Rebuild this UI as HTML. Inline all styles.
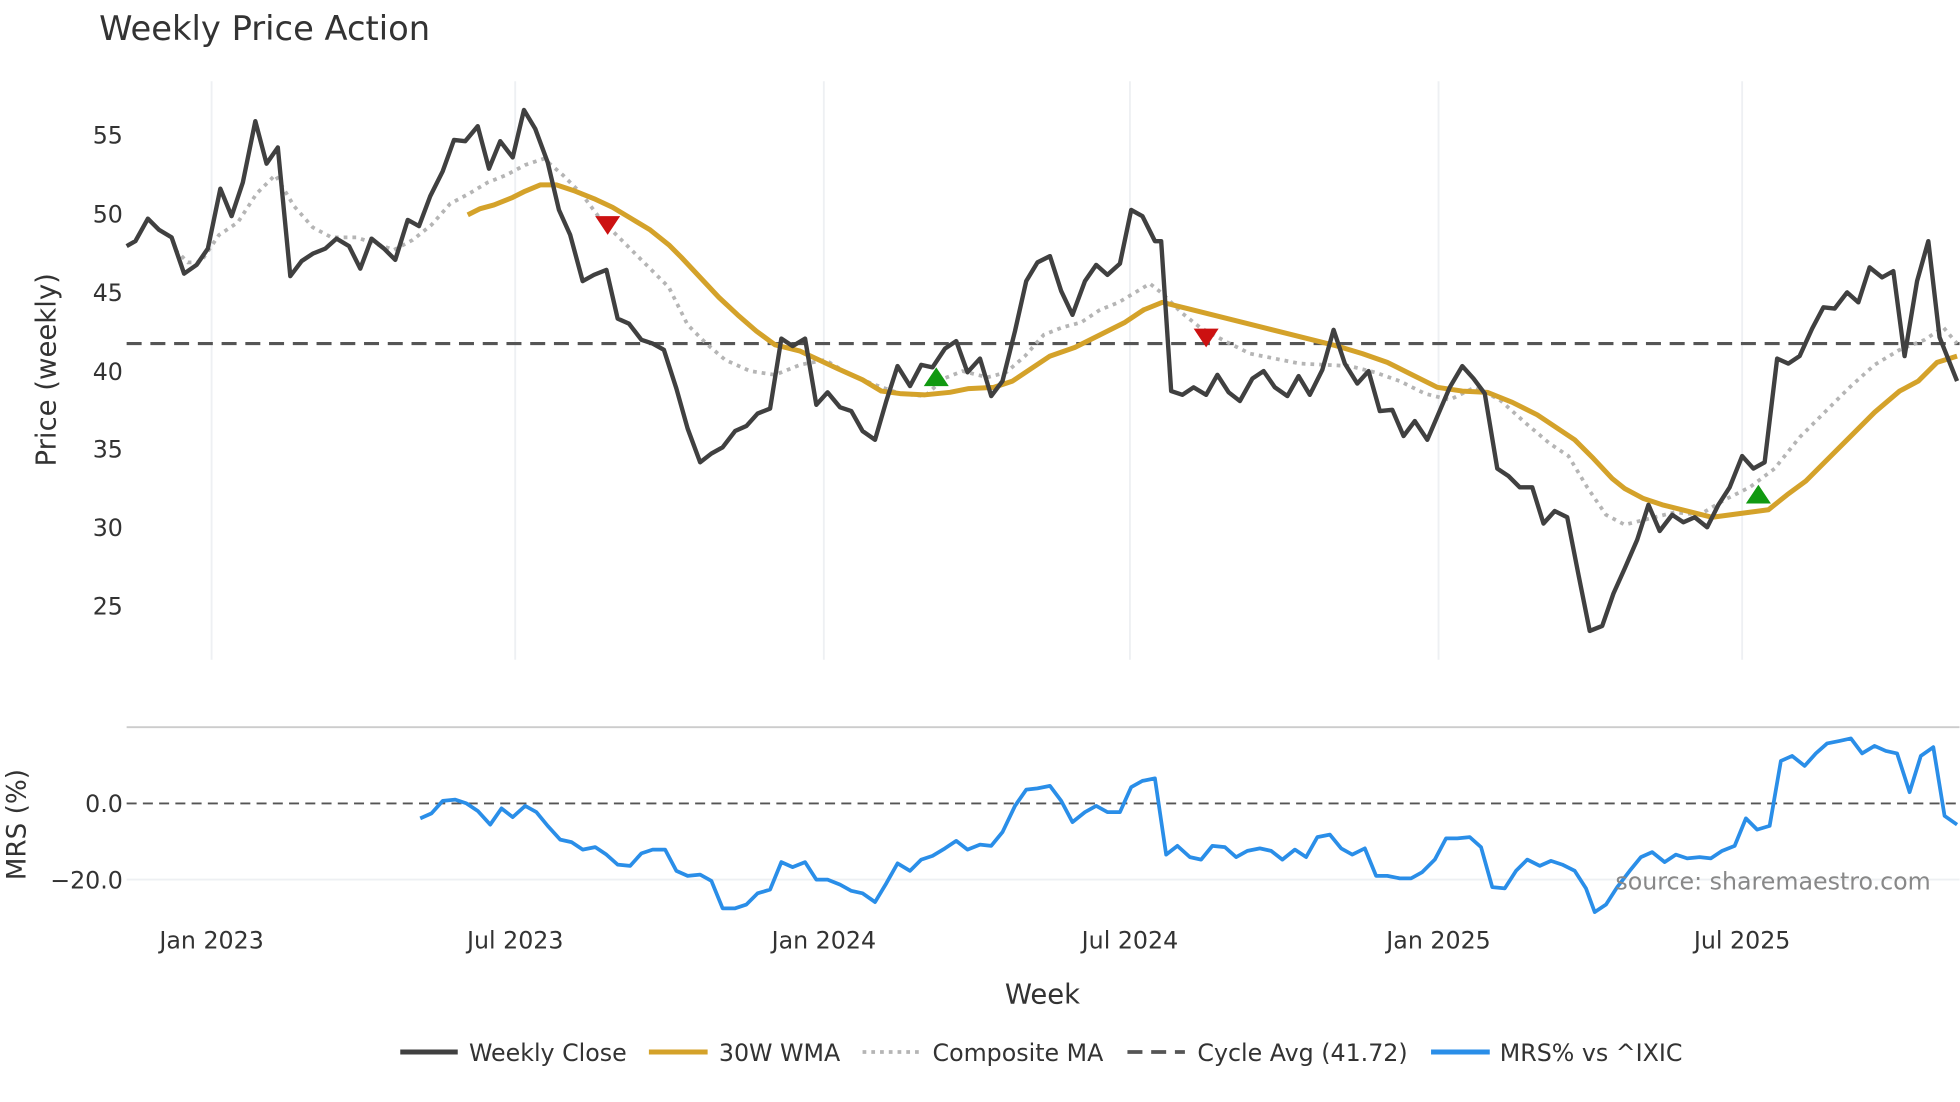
<!DOCTYPE html>
<html><head><meta charset="utf-8"><style>
html,body{margin:0;padding:0;background:#fff}
svg{display:block}
text{font-family:"DejaVu Sans","Liberation Sans",sans-serif;fill:#333}
</style></head><body>
<svg width="1960" height="1102" viewBox="0 0 1568 882" xmlns="http://www.w3.org/2000/svg">
<rect width="1568" height="882" fill="#fff"/>
<text x="79" y="32" font-size="27">Weekly Price Action</text>
<g stroke="#eef0f3" stroke-width="1.5">
<line x1="169" y1="65" x2="169" y2="528"/><line x1="412" y1="65" x2="412" y2="528"/>
<line x1="659" y1="65" x2="659" y2="528"/><line x1="904" y1="65" x2="904" y2="528"/>
<line x1="1151" y1="65" x2="1151" y2="528"/><line x1="1394" y1="65" x2="1394" y2="528"/>
<line x1="101" y1="704" x2="1568" y2="704"/>
</g>
<line x1="101" y1="582" x2="1568" y2="582" stroke="#ccc" stroke-width="1.5"/>
<g font-size="19" text-anchor="end">
<text x="98" y="115">55</text><text x="98" y="178">50</text><text x="98" y="241">45</text>
<text x="98" y="304">40</text><text x="98" y="366">35</text><text x="98" y="429">30</text><text x="98" y="492">25</text>
<text x="98" y="650">0.0</text><text x="98" y="711">−20.0</text>
</g>
<g font-size="19" text-anchor="middle">
<text x="169" y="759">Jan 2023</text><text x="412" y="759">Jul 2023</text><text x="659" y="759">Jan 2024</text>
<text x="904" y="759">Jul 2024</text><text x="1151" y="759">Jan 2025</text><text x="1394" y="759">Jul 2025</text>
<text x="834" y="803" font-size="22">Week</text>
</g>
<text transform="translate(44,296) rotate(-90)" font-size="22" text-anchor="middle">Price (weekly)</text>
<text transform="translate(20,660) rotate(-90)" font-size="21" text-anchor="middle">MRS (%)</text>
<line x1="101" y1="275" x2="1568" y2="275" stroke="#555" stroke-width="2.5" stroke-dasharray="12,7"/>
<line x1="101" y1="643" x2="1568" y2="643" stroke="#555" stroke-width="1.5" stroke-dasharray="8,5"/>
<polyline fill="none" stroke="#b5b5b5" stroke-width="3" stroke-dasharray="3,4" points="140,200 150,210 160,210 175,188 190,178 205,155 220,140 235,165 250,182 265,190 285,190 300,195 315,200 330,192 345,180 360,163 375,155 390,146 405,140 420,132 435,127 450,140 465,155 480,175 495,190 510,205 525,220 535,230 550,260 565,275 580,288 600,297 620,300 640,292 660,288 680,300 700,308 720,315 740,317 755,303 770,297 790,302 805,298 820,285 835,268 850,262 865,258 880,248 895,242 905,236 920,227 930,235 945,250 960,262 980,273 1000,283 1020,287 1040,291 1060,292 1080,293 1100,298 1120,305 1140,315 1160,320 1180,310 1200,320 1220,338 1240,355 1255,365 1270,390 1285,412 1300,420 1320,415 1340,410 1360,412 1380,400 1400,390 1420,375 1440,350 1460,330 1480,310 1500,292 1520,280 1540,272 1555,262 1566,275"/>
<polyline fill="none" stroke="#d4a22a" stroke-width="4" stroke-linejoin="round" points="374,172 384,167 395,164 410,158 420,153 432,148 445,148 460,153 475,159 490,166 505,175 520,184 535,196 545,206 560,222 575,238 590,252 605,265 620,276 640,281 655,288 670,295 690,304 705,313 720,315 740,316 760,314 775,311 795,310 810,305 825,295 840,285 860,278 880,268 900,258 915,248 930,242 950,247 970,252 990,257 1010,262 1030,267 1050,272 1070,277 1090,283 1110,290 1130,300 1150,310 1170,313 1190,314 1210,322 1230,332 1245,342 1260,352 1275,367 1290,383 1300,391 1315,399 1330,404 1350,409 1370,414 1385,412 1400,410 1415,408 1430,396 1445,385 1460,370 1480,350 1500,330 1520,313 1535,305 1550,290 1566,285"/>
<polyline fill="none" stroke="#404040" stroke-width="3.5" stroke-linejoin="round" points="101,197 108,193 118,175 127,184 137,190 147,219 157,212 166,199 176,151 185,173 194,146 204,97 213,131 222,118 232,221 241,209 250,203 260,199 269,191 279,197 288,215 297,191 307,199 316,208 326,176 335,181 344,157 354,137 363,112 372,113 382,101 391,135 400,113 410,126 419,88 428,103 438,130 447,168 456,188 466,225 475,220 485,216 494,255 503,259 513,272 522,275 531,280 541,311 550,343 560,370 569,363 578,358 588,345 597,341 606,331 616,327 625,271 634,277 644,271 653,324 662,314 672,326 681,329 690,345 700,352 709,321 718,293 728,309 737,292 746,294 756,279 765,273 774,298 784,287 793,317 802,305 812,265 821,225 830,210 840,205 849,233 858,252 868,225 877,212 886,220 896,211 905,168 914,173 924,193 929,193 937,313 946,316 955,310 965,316 974,300 983,314 992,321 1002,303 1011,297 1020,310 1030,317 1039,301 1048,316 1058,296 1067,264 1076,291 1086,307 1095,297 1104,329 1114,328 1123,349 1132,337 1142,352 1151,331 1160,310 1170,293 1179,303 1188,315 1198,375 1207,381 1216,390 1226,390 1235,419 1244,409 1254,414 1263,460 1272,505 1282,501 1291,475 1300,455 1310,432 1319,404 1328,425 1338,412 1347,418 1356,414 1366,422 1375,404 1384,390 1394,365 1403,375 1412,370 1422,287 1431,291 1440,285 1450,263 1459,246 1468,247 1478,234 1487,242 1496,214 1506,222 1515,217 1524,285 1534,225 1543,193 1552,270 1566,305"/>
<g fill="#cc1111"><polygon points="476,173 496,173 486,188"/><polygon points="955,263 975,263 965,278"/></g>
<g fill="#119911"><polygon points="739,309 759,309 749,294"/><polygon points="1397,403 1417,403 1407,388"/></g>
<polyline fill="none" stroke="#2a8ee8" stroke-width="3" stroke-linejoin="round" points="336,655 345,651 354,641 364,640 373,643 382,649 392,660 401,647 410,654 420,645 429,650 438,661 448,672 457,674 466,680 476,678 485,684 494,692 504,693 513,683 522,680 532,680 541,697 550,701 560,700 569,705 578,727 588,727 597,724 606,715 616,712 625,690 634,694 644,690 653,704 662,704 672,708 681,713 690,715 700,722 709,707 718,691 728,697 737,688 746,685 756,679 765,673 774,680 784,676 793,677 802,666 812,645 821,632 830,631 840,629 849,641 858,658 868,650 877,645 886,650 896,650 905,630 914,625 924,623 933,684 942,677 952,686 961,688 970,677 980,678 989,686 998,681 1008,679 1017,681 1026,688 1036,680 1045,686 1054,670 1064,668 1073,679 1082,684 1092,679 1101,701 1110,701 1120,703 1129,703 1138,698 1148,688 1157,671 1166,671 1176,670 1185,678 1194,710 1204,711 1213,697 1222,688 1232,693 1241,689 1250,692 1260,697 1269,711 1276,730 1285,724 1294,710 1304,697 1313,686 1322,682 1332,690 1341,684 1350,687 1360,686 1369,687 1378,681 1388,677 1397,655 1406,664 1416,661 1425,609 1434,605 1444,613 1453,603 1462,595 1472,593 1481,591 1490,603 1500,597 1509,601 1518,603 1528,634 1537,605 1547,598 1556,653 1566,660"/>
<text x="1545" y="712" font-size="19" text-anchor="end" style="fill:#888">source: sharemaestro.com</text>
<g stroke-width="4">
<line x1="320" y1="842" x2="366" y2="842" stroke="#404040"/>
<line x1="519" y1="842" x2="566" y2="842" stroke="#d4a22a"/>
<line x1="690" y1="842" x2="736" y2="842" stroke="#b5b5b5" stroke-width="3" stroke-dasharray="3,4"/>
<line x1="902" y1="842" x2="948" y2="842" stroke="#555" stroke-width="3" stroke-dasharray="12,7"/>
<line x1="1145" y1="842" x2="1192" y2="842" stroke="#2a8ee8"/>
</g>
<g font-size="19">
<text x="375" y="849">Weekly Close</text><text x="575" y="849">30W WMA</text>
<text x="746" y="849">Composite MA</text><text x="958" y="849">Cycle Avg (41.72)</text>
<text x="1200" y="849">MRS% vs ^IXIC</text>
</g>
</svg>
</body></html>
